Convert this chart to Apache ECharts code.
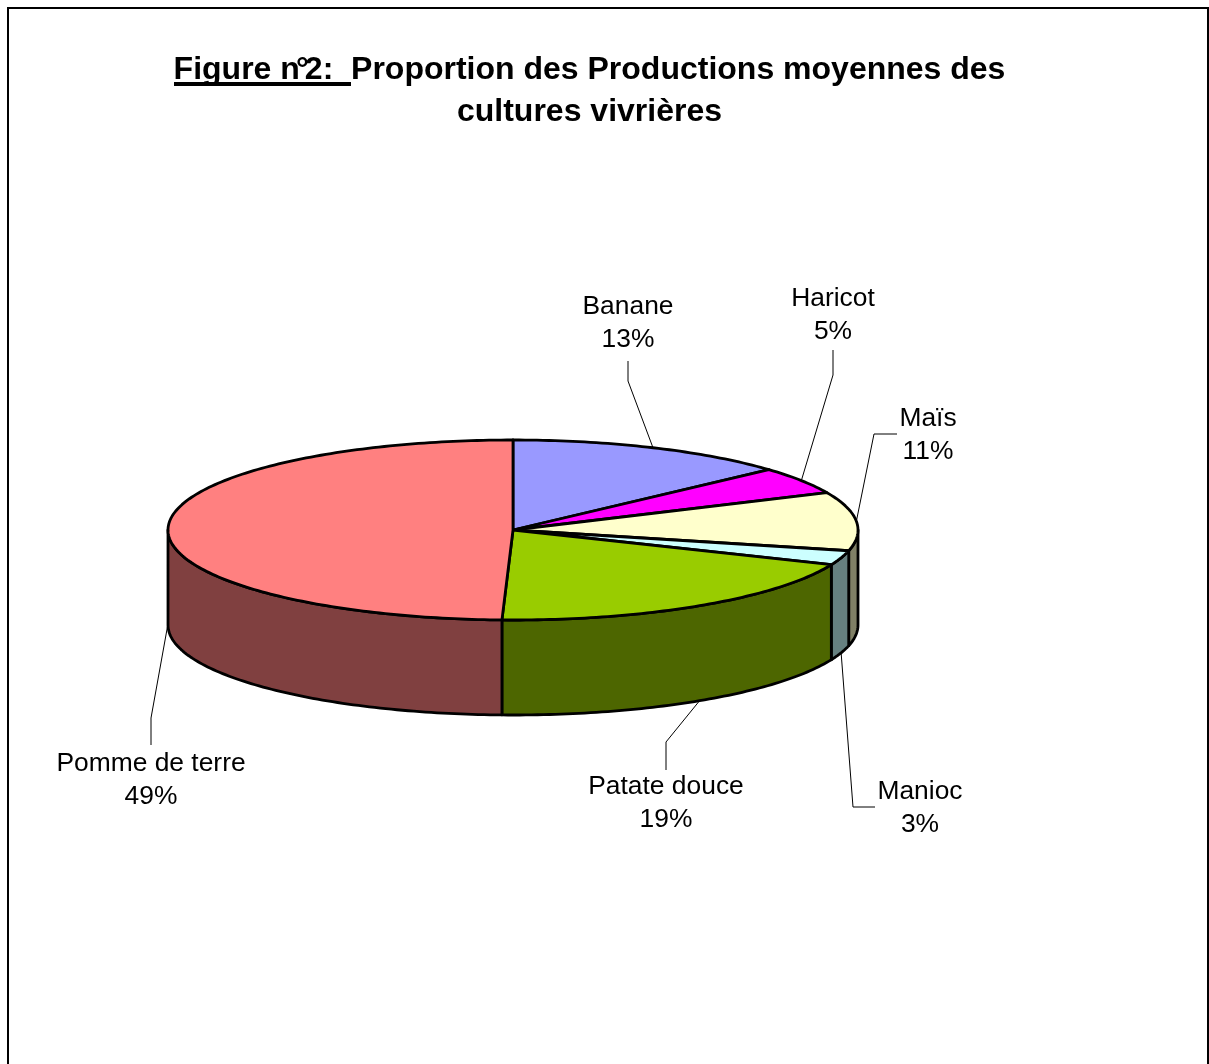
<!DOCTYPE html>
<html>
<head>
<meta charset="utf-8">
<style>html,body{margin:0;padding:0;background:#fff}#chart{width:1209px;height:1064px}</style>
<script src="https://cdn.jsdelivr.net/npm/echarts@6/dist/echarts.min.js"></script>
</head>
<body>
<div id="chart"></div>
<script>
// Part of each food crop in average production (%)
const crops = ['Banane', 'Haricot', 'Maïs', 'Manioc', 'Patate douce', 'Pomme de terre'];
const shares = [13.3, 4.9, 10.5, 2.6, 19.21, 49.49];
const topColors = ['#9999FF', '#FF00FF', '#FFFFCC', '#CCFFFF', '#99CC00', '#FF8080'];
const wallColors = ['#4D4D80', '#800080', '#808066', '#668080', '#4D6600', '#804040'];

// Leader elbows and label centres, as [elbowX, elbowY, endX, endY, labelX, labelY]
const labelLayout = [
  [628, 381, 628, 361, 628, 323],
  [833, 375, 833, 350, 833, 315],
  [874, 434, 897, 434, 928, 435],
  [853, 807, 875, 807, 920, 808],
  [666, 742, 666, 770, 666, 803],
  [151, 718, 151, 745, 151, 780]
];

// Disc geometry: the tilted pie is an ellipse extruded downwards
const disc = { cx: 513, cy: 530, rx: 345, ry: 90, depth: 95 };
const total = shares.reduce((a, b) => a + b, 0);

function rimPoint(turn, drop) {
  const t = turn * 2 * Math.PI;
  return [disc.cx + disc.rx * Math.sin(t), disc.cy - disc.ry * Math.cos(t) + (drop || 0)];
}
function rimArc(from, to, drop) {
  const n = Math.max(2, Math.ceil((to - from) * 360));
  const pts = [];
  for (let i = 0; i <= n; i++) pts.push(rimPoint(from + (to - from) * i / n, drop));
  return pts;
}

const outline = { stroke: '#000', lineWidth: 2.8, lineJoin: 'round' };

function renderSlice(params, api) {
  const i = params.dataIndex;
  const from = shares.slice(0, i).reduce((a, b) => a + b, 0) / total;
  const share = api.value(1) / total;
  const to = from + share;
  const mid = (from + to) / 2;
  const children = [];

  // Leader starts on the outer edge at the slice's middle, on the wall for front slices
  const onWall = Math.cos(mid * 2 * Math.PI) < 0.05;
  const start = rimPoint(mid, onWall ? disc.depth : 0);
  const L = labelLayout[i];
  children.push({
    type: 'polyline', z2: 0,
    shape: { points: [start, [L[0], L[1]], [L[2], L[3]]] },
    style: { stroke: '#000', lineWidth: 1, fill: null }
  });

  // Only the front half of the rim (quarter to three quarters of a turn) shows a wall
  const wallFrom = Math.max(from, 0.25);
  const wallTo = Math.min(to, 0.75);
  if (wallTo > wallFrom) {
    const upper = rimArc(wallFrom, wallTo, 0);
    const lower = rimArc(wallFrom, wallTo, disc.depth).reverse();
    children.push({
      type: 'polygon', z2: 1,
      shape: { points: upper.concat(lower) },
      style: Object.assign({ fill: wallColors[i] }, outline)
    });
  }

  children.push({
    type: 'polygon', z2: 2,
    shape: { points: [[disc.cx, disc.cy]].concat(rimArc(from, to, 0)) },
    style: Object.assign({ fill: topColors[i] }, outline)
  });

  children.push({
    type: 'text', z2: 4,
    x: L[4], y: L[5],
    style: {
      text: api.value(0) + '\n' + Math.round(share * 100) + '%',
      font: '26.4px "Liberation Sans", Arial, sans-serif',
      fill: '#000', align: 'center', verticalAlign: 'middle', lineHeight: 33
    }
  });
  return { type: 'group', children };
}

const titleFont = {
  fontFamily: '"Liberation Sans", Arial, sans-serif',
  fontSize: 32, fontWeight: 'bold', color: '#000', lineHeight: 42
};

const chart = echarts.init(document.getElementById('chart'), null, { renderer: 'canvas' });
chart.setOption({
  animation: false,
  backgroundColor: '#fff',
  title: {
    // The degree sign is set tight so that it runs into the following digit
    text: '{t|Figure n}{deg|°}{t|2:  Proportion des Productions moyennes des}\n{t|cultures vivrières}',
    left: 584.5, top: 44, textAlign: 'center',
    textStyle: Object.assign({
      rich: {
        t: Object.assign({}, titleFont),
        deg: Object.assign({ width: 5 }, titleFont)
      }
    }, titleFont)
  },
  graphic: [
    { type: 'rect', z: -1, shape: { x: 8, y: 8, width: 1200, height: 1080 },
      style: { fill: '#fff', stroke: '#000', lineWidth: 2 } },
    // Underline of the figure number
    { type: 'rect', z: 5, shape: { x: 174, y: 82, width: 177, height: 4 }, style: { fill: '#000' } }
  ],
  series: [{
    type: 'custom',
    coordinateSystem: 'none',
    renderItem: renderSlice,
    data: crops.map((c, i) => [c, shares[i]]),
    encode: { itemName: 0, value: 1 },
    clip: false
  }]
});
</script>
</body>
</html>
